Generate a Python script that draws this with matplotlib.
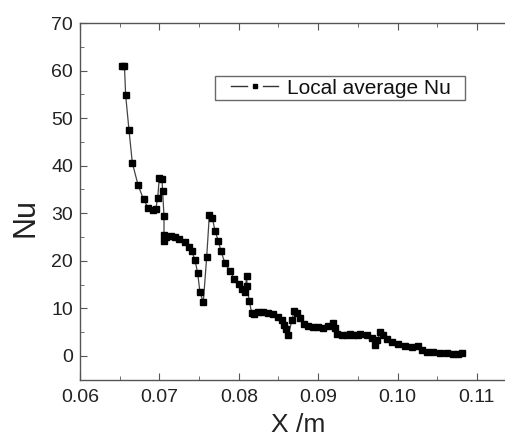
import matplotlib
matplotlib.use('Agg')
import matplotlib.pyplot as plt
from matplotlib.lines import Line2D
from matplotlib.legend_handler import HandlerBase
from matplotlib.ticker import MultipleLocator, FormatStrFormatter

plt.rcParams['font.family'] = ['Liberation Sans', 'DejaVu Sans']

# Local average Nu along X
x_m = [0.06525, 0.06560, 0.06575, 0.06617, 0.06659, 0.06730, 0.06800, 0.06860,
       0.06915, 0.06953, 0.06978, 0.06999, 0.07033, 0.07040, 0.07058, 0.07058,
       0.07054, 0.07083, 0.07142, 0.07196, 0.07250, 0.07327, 0.07369, 0.07407,
       0.07448, 0.07482, 0.07511, 0.07553, 0.07596, 0.07629, 0.07667, 0.07700,
       0.07742, 0.07776, 0.07826, 0.07889, 0.07943, 0.08006, 0.08044, 0.08078,
       0.08099, 0.08105, 0.08132, 0.08162, 0.08191, 0.08246, 0.08309, 0.08372,
       0.08435, 0.08498, 0.08540, 0.08570, 0.08594, 0.08624, 0.08670, 0.08695,
       0.08737, 0.08771, 0.08821, 0.08876, 0.08938, 0.09001, 0.09064, 0.09127,
       0.09182, 0.09210, 0.09241, 0.09296, 0.09359, 0.09400, 0.09443, 0.09505,
       0.09526, 0.09611, 0.09674, 0.09715, 0.09745, 0.09778, 0.09812, 0.09863,
       0.09925, 0.10009, 0.10093, 0.10177, 0.10261, 0.10303, 0.10366, 0.10450,
       0.10534, 0.10618, 0.10702, 0.10764, 0.10807]
nu = [60.9, 60.9, 54.8, 47.5, 40.6, 36.0, 32.9, 31.1,
      30.7, 30.8, 33.1, 37.5, 37.1, 34.7, 29.4, 25.4,
      24.1, 25.1, 25.2, 24.9, 24.6, 23.9, 23.0, 22.0,
      20.2, 17.4, 13.4, 11.3, 20.9, 29.6, 29.0, 26.3,
      24.2, 22.0, 19.5, 17.8, 16.2, 15.1, 14.1, 13.4,
      16.7, 14.6, 11.5, 9.1, 8.8, 9.3, 9.3, 9.1,
      8.8, 8.2, 7.5, 6.6, 5.6, 4.5, 7.5, 9.4,
      9.1, 7.9, 6.8, 6.3, 6.1, 6.0, 5.9, 6.3,
      7.0, 5.9, 4.7, 4.4, 4.5, 4.6, 4.5, 4.4,
      4.6, 4.4, 3.7, 2.3, 3.3, 5.1, 4.5, 3.5,
      3.0, 2.5, 2.1, 1.8, 2.1, 1.2, 0.85, 0.85,
      0.7, 0.63, 0.36, 0.3, 0.7]


class GapLineHandler(HandlerBase):
    # origin-style handle: short line, gap, marker, gap, short line
    def create_artists(self, legend, orig_handle, xdescent, ydescent,
                       width, height, fontsize, trans):
        y = height / 2 - ydescent
        x1 = -xdescent + width
        x0 = x1 - 0.77 * width
        seg = (x1 - x0) * 0.32
        kw = dict(color='#333333', lw=1.0, transform=trans)
        l1 = Line2D([x0, x0 + seg], [y, y], **kw)
        l2 = Line2D([x1 - seg, x1], [y, y], **kw)
        m = Line2D([(x0 + x1) / 2], [y], lw=0, marker='s', ms=3.5,
                   color='black', transform=trans)
        return [l1, l2, m]


fig = plt.figure(figsize=(5.06, 4.41), dpi=100)
ax = fig.add_axes([80 / 506, 61.3 / 441, 436.7 / 506, 356.7 / 441])

ax.plot(x_m, nu, color='#444444', lw=0.9, marker='s', ms=4.3,
        mfc='black', mec='black')

ax.set_xlim(0.06, 0.115)
ax.set_ylim(-5, 70)
ax.xaxis.set_major_locator(MultipleLocator(0.01))
ax.xaxis.set_minor_locator(MultipleLocator(0.005))
ax.yaxis.set_major_locator(MultipleLocator(10))
ax.yaxis.set_minor_locator(MultipleLocator(5))
ax.xaxis.set_major_formatter(FormatStrFormatter('%.2f'))

for s in ax.spines.values():
    s.set_color('#555555')
    s.set_linewidth(1.0)
ax.tick_params(which='both', direction='in', top=True, right=True,
               colors='#555555', labelcolor='#222222', labelsize=14)
ax.tick_params(which='major', length=5)
ax.tick_params(axis='x', which='major', pad=7)
ax.tick_params(axis='y', which='major', pad=5)
ax.tick_params(which='minor', length=3)

ax.set_xlabel('X /m', fontsize=19, color='#222222', labelpad=5)
ax.set_ylabel('Nu', fontsize=22, color='#222222')
ax.yaxis.set_label_coords(-0.09, 0.456)

proxy = Line2D([], [])
leg = ax.legend([proxy], ['Local average Nu  '],
                handler_map={Line2D: GapLineHandler()},
                loc='upper left', bbox_to_anchor=(0.309, 0.851), fontsize=15,
                frameon=True, fancybox=False, handlelength=2.93, borderpad=0.12,
                handletextpad=0.4, borderaxespad=0)
leg.get_frame().set_edgecolor('#444444')
leg.get_frame().set_linewidth(1.0)
for t in leg.get_texts():
    t.set_color('#111111')

fig.savefig('out.png', dpi=100)
